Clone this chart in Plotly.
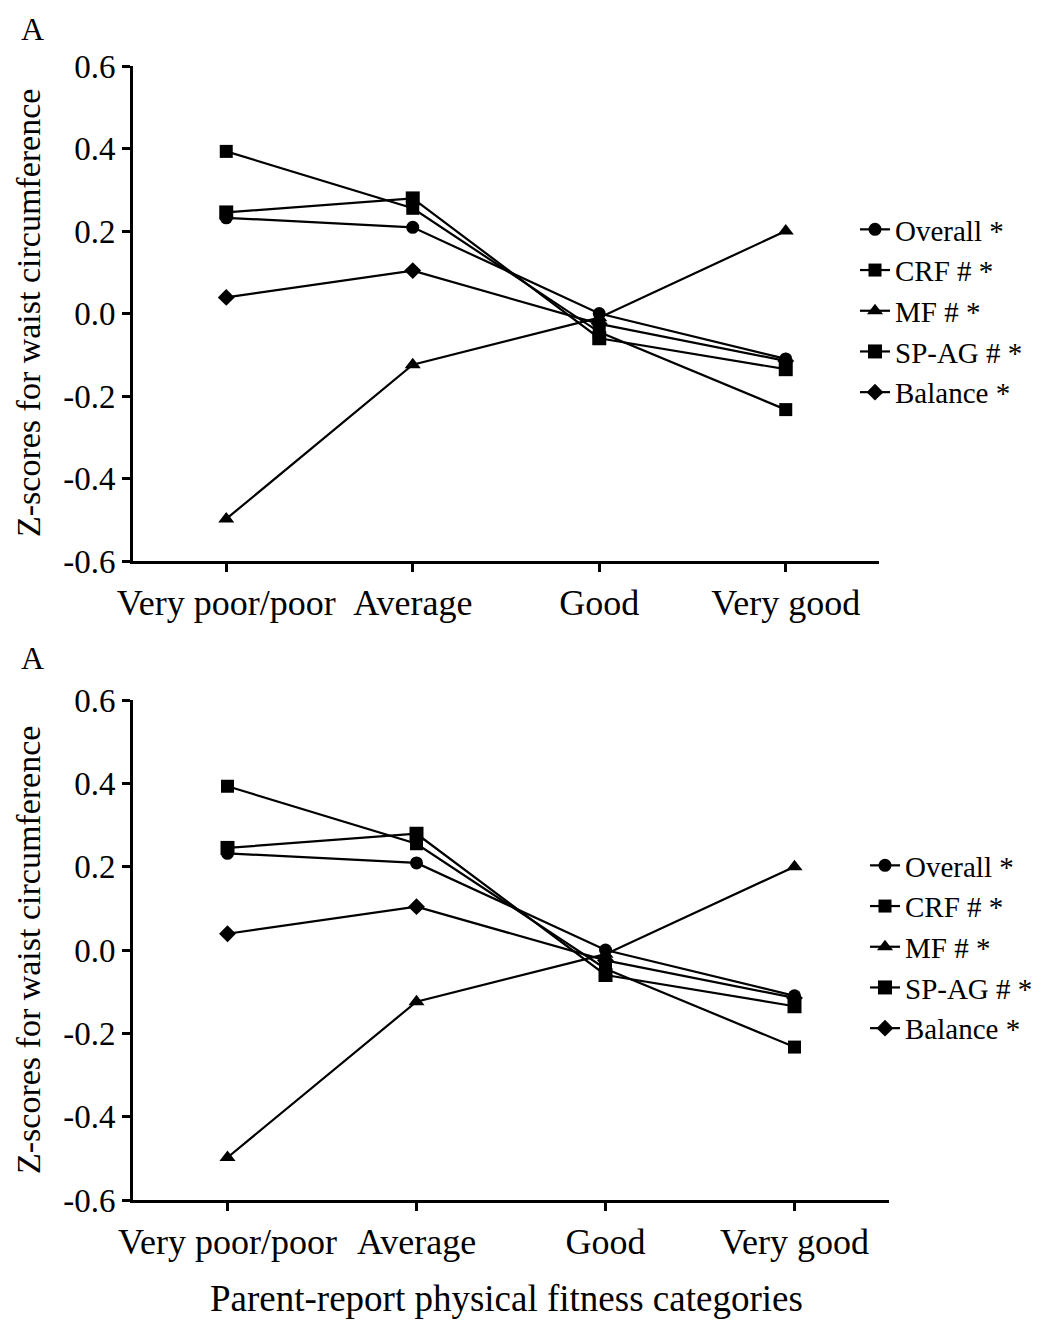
import plotly.graph_objects as go

categories = ["Very poor/poor", "Average", "Good", "Very good"]
series_names = ["Overall *", "CRF # *", "MF # *", "SP-AG # *", "Balance *"]
overall = [0.232, 0.209, 0.0, -0.110]
crf = [0.393, 0.255, -0.045, -0.233]
mf = [-0.498, -0.124, -0.010, 0.200]
spag = [0.245, 0.279, -0.060, -0.135]
balance = [0.039, 0.104, -0.025, -0.115]
y_tick_vals = [-0.6, -0.4, -0.2, 0.0, 0.2, 0.4, 0.6]
y_tick_text = ["-0.6", "-0.4", "-0.2", "0.0", "0.2", "0.4", "0.6"]

symbols = ["circle", "square", "triangle-up", "square", "diamond"]
sizes = [13, 13, 14, 14, 13]
series = [overall, crf, mf, spag, balance]

FONT = "Liberation Serif"
OFF = 8  # page body margin offset in screenshot
W, H = 1062 - OFF, 1320 - OFF

# target positions given in screenshot pixels
AX_L, AX_R2, AX_B2, AX_T1 = 133, 889, 1200, 66
L = AX_L - OFF
R = W - (AX_R2 - OFF)
T = AX_T1 - OFF
B = H - (AX_B2 - OFF)
PW = AX_R2 - AX_L
PH = AX_B2 - AX_T1

def px_x(p):
    return (p - AX_L) / PW

def px_y(p):
    return (AX_B2 - p) / PH

fig = go.Figure()
for panel, (xa, ya, lg) in enumerate([("x", "y", "legend"), ("x2", "y2", "legend2")]):
    for name, vals, sym, sz in zip(series_names, series, symbols, sizes):
        fig.add_trace(go.Scatter(
            x=categories, y=vals, name=name, mode="lines+markers",
            xaxis=xa, yaxis=ya, legend=lg,
            line=dict(color="black", width=2.2),
            marker=dict(symbol=sym, size=sz, color="black"),
        ))

axis_common = dict(
    showline=True, linecolor="black", linewidth=3,
    ticks="outside", ticklen=8, tickwidth=3, tickcolor="black",
    showgrid=False, zeroline=False,
    tickfont=dict(family=FONT, size=33, color="black"),
)

legend_font = dict(family=FONT, size=29, color="black")

fig.update_layout(
    width=W, height=H,
    margin=dict(l=L, r=R, t=T, b=B),
    paper_bgcolor="white", plot_bgcolor="white",
    font=dict(family=FONT, color="black"),
    xaxis=dict(axis_common, type="category", range=[-0.5, 3.5],
               domain=[0, px_x(879)], anchor="y",
               tickfont=dict(family=FONT, size=36, color="black")),
    yaxis=dict(axis_common, range=[-0.6, 0.6], domain=[px_y(561), 1],
               tickvals=y_tick_vals, ticktext=y_tick_text, anchor="x"),
    xaxis2=dict(axis_common, type="category", range=[-0.5, 3.5],
                domain=[0, 1], anchor="y2",
                tickfont=dict(family=FONT, size=36, color="black")),
    yaxis2=dict(axis_common, range=[-0.6, 0.6], domain=[0, px_y(700)],
                tickvals=y_tick_vals, ticktext=y_tick_text, anchor="x2"),
    legend=dict(x=px_x(855), y=px_y(204), xanchor="left", yanchor="top",
                font=legend_font, bgcolor="rgba(0,0,0,0)",
                tracegroupgap=0, itemwidth=30),
    legend2=dict(x=px_x(865), y=px_y(840), xanchor="left", yanchor="top",
                 font=legend_font, bgcolor="rgba(0,0,0,0)",
                 tracegroupgap=0, itemwidth=30),
    showlegend=True,
)

annotations = [
    dict(text="A", x=px_x(32), y=px_y(29), xanchor="center", yanchor="middle"),
    dict(text="A", x=px_x(32), y=px_y(658), xanchor="center", yanchor="middle"),
    dict(text="Z-scores for waist circumference", x=px_x(28), y=px_y(313),
         textangle=-90, xanchor="center", yanchor="middle", size=34),
    dict(text="Z-scores for waist circumference", x=px_x(28), y=px_y(950),
         textangle=-90, xanchor="center", yanchor="middle", size=34),
    dict(text="Parent-report physical fitness categories", x=px_x(506), y=px_y(1298),
         xanchor="center", yanchor="middle", size=37),
]
for a in annotations:
    size = a.pop("size", 32)
    fig.add_annotation(xref="paper", yref="paper", showarrow=False,
                       font=dict(family=FONT, size=size, color="black"), **a)

fig.write_html("out.html")
